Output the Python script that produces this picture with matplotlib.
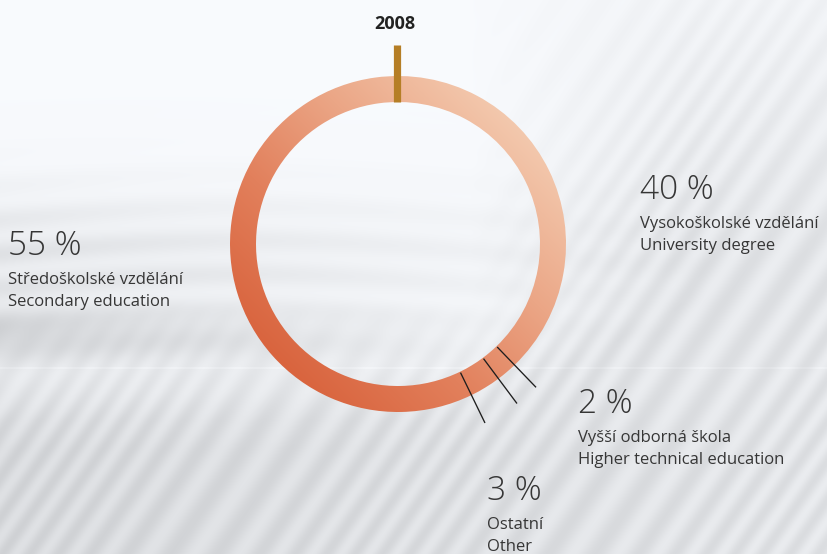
import numpy as np
import matplotlib.pyplot as plt
from matplotlib.colors import LinearSegmentedColormap
from matplotlib.path import Path

# --- data ---
year = "2008"
shares = [40, 2, 3, 55]
pct_labels = ["40 %", "2 %", "3 %", "55 %"]
cz_labels = ["Vysokoškolské vzdělání", "Vyšší odborná škola", "Ostatní", "Středoškolské vzdělání"]
en_labels = ["University degree", "Higher technical education", "Other", "Secondary education"]

W, H = 827, 554
CX, CY = 398, H - 244          # ring centre (y up)
R, RING_W = 168, 26
ROT = 2.2                        # ring turned back by this many percent
TEXT = "#363636"

# where each label block sits (x left, baseline of the percent line, pixel y)
label_pos = [(640, 199), (578, 413), (487, 500), (8, 255)]


def Y(py):
    return H - py


fig = plt.figure(figsize=(W / 100, H / 100), dpi=100)
ax = fig.add_axes([0, 0, 1, 1])

# --- background: pale grey swirl and diagonal streaks ---
yy, xx = np.mgrid[0:H, 0:W].astype(float)
g = np.full((H, W), 0.985)
# soft swirl band on the left
band = np.exp(-((yy - 265) / 75) ** 2) * np.clip(1 - xx / 750, 0, 1)
swirl = 0.5 + 0.5 * np.sin(yy * 0.18 + 2.5 * np.sin(xx / 160))
g -= band * (0.05 + 0.05 * swirl)
g -= 0.10 * np.exp(-((yy - 335) / 26) ** 2) * np.clip(1 - xx / 500, 0, 1)
# diagonal streaks, strongest low and to the right
phase = 0.82 * xx + 0.57 * yy
stripes = 0.5 + 0.5 * np.sin(phase / 4.5 + 3 * np.sin(phase / 50))
wdiag = np.clip((yy - 300) / 120, 0, 1) + np.clip((xx - 470) / 220, 0, 1) * np.clip(0.35 + yy / 400, 0, 1)
wdiag = np.clip(wdiag, 0, 1)
g -= wdiag * (0.05 + 0.06 * stripes)
g -= 0.05 * np.clip((yy - 368) / 80, 0, 1) * np.clip(1 - xx / 900, 0, 1)
g[367:369, :] += 0.02
g = np.clip(g, 0, 1)
bg = np.dstack([g - 0.012, g - 0.004, g + 0.008]).clip(0, 1)
ax.imshow(bg, extent=(0, W, 0, H), origin="upper", zorder=0, interpolation="bilinear")

# --- ring ---
wedges, _ = ax.pie(shares, center=(CX, CY), radius=R, startangle=90 + ROT * 3.6,
                   counterclock=False, wedgeprops=dict(width=RING_W, linewidth=0))
cmap = LinearSegmentedColormap.from_list(
    "ring", ["#f3c8ad", "#eba686", "#e2805c", "#d9643e"])
gy, gx = np.mgrid[-1:1:400j, -1:1:400j]
t = np.clip(((gy - gx) / np.sqrt(2) + 1) / 2, 0, 1)   # top-right light -> bottom-left dark
ring = Path.make_compound_path(*[w.get_path() for w in wedges])
for w in wedges:
    w.set_facecolor("none")
im = ax.imshow(cmap(t), extent=(CX - R, CX + R, CY - R, CY + R), origin="upper",
               zorder=2, interpolation="bilinear")
im.set_clip_path(ring, transform=ax.transData)

# leader lines at the boundaries of the two small segments
cum = np.cumsum(shares)[:3] - ROT
for c in cum:
    a = np.deg2rad(90 - c * 3.6)
    r0, r1 = R - RING_W + 1, R + 31
    ax.plot([CX + r0 * np.cos(a), CX + r1 * np.cos(a)],
            [CY + r0 * np.sin(a), CY + r1 * np.sin(a)],
            color="#1e1e1e", lw=0.95, zorder=4, solid_capstyle="butt")

# year marker
ax.plot([CX - 1.5, CX - 1.5], [CY + R - RING_W, CY + R + 31], color="#b57e26",
        lw=5.2, solid_capstyle="butt", zorder=5)
ax.text(CX - 3, Y(29), year, ha="center", va="baseline", fontsize=13,
        fontweight="bold", color="#222222", family="Open Sans", zorder=6)

# --- labels ---
for (lx, ly), p, cz, en in zip(label_pos, pct_labels, cz_labels, en_labels):
    ax.text(lx, Y(ly), p, ha="left", va="baseline", fontsize=24, color=TEXT,
            family="Open Sans", fontweight="light", zorder=6)
    ax.text(lx, Y(ly + 29), cz, ha="left", va="baseline", fontsize=12, color=TEXT,
            family="Open Sans", zorder=6)
    ax.text(lx, Y(ly + 51), en, ha="left", va="baseline", fontsize=12, color=TEXT,
            family="Open Sans", zorder=6)

ax.set_xlim(0, W)
ax.set_ylim(0, H)
ax.set_aspect("auto")
ax.axis("off")

fig.savefig("out.png", dpi=100)
